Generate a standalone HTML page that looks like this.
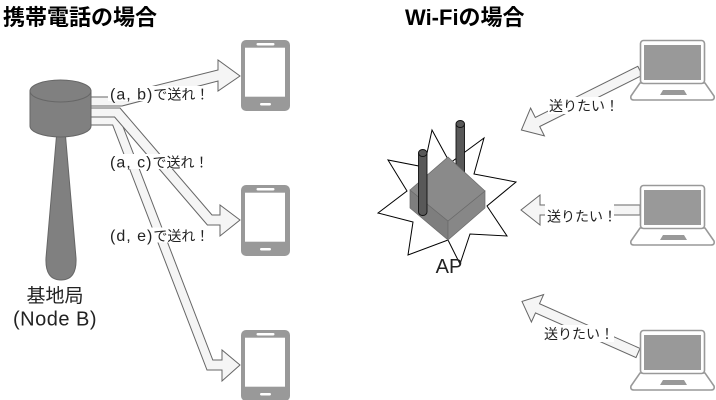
<!DOCTYPE html>
<html>
<head>
<meta charset="utf-8">
<style>
  html,body{margin:0;padding:0;background:#fff;}
  svg{display:block;}
</style>
</head>
<body>
<svg width="716" height="400" viewBox="0 0 716 400" xmlns="http://www.w3.org/2000/svg" font-family="'Liberation Sans','Noto Sans CJK JP',sans-serif">
  <!-- Titles -->
  <text x="3" y="25" font-size="22" font-weight="bold" fill="#000">携帯電話の場合</text>
  <text x="405" y="25" font-size="22" font-weight="bold" fill="#000">Wi-Fiの場合</text>

  <!-- Tower arrows -->
  <g fill="#f5f5f5" stroke="#666" stroke-width="1" stroke-linejoin="miter">
    <polygon points="88,117 119.3,117 212.8,360 222,360 222,350 240,365 222,381 222,370 207,370 112.7,125 88,125"/>
    <polygon points="88,108 120,108 212,215 220,215 220,205 240,220 220,236 220,225 207.4,225 114.6,117 88,117"/>
    <polygon points="88,97 110,97 218,70 218,60 240,76 218,91 218,81 122,106 88,106"/>
  </g>

  <!-- Tower -->
  <path d="M57,130 L65,130 L76,258 Q77,280 61,280 Q45,280 46,258 Z" fill="#808080" stroke="#666" stroke-width="1"/>
  <path d="M30,91 L30,126 A30.5,11 0 0 0 91,126 L91,91 Z" fill="#808080" stroke="#666" stroke-width="1"/>
  <ellipse cx="60.5" cy="91" rx="30.5" ry="11" fill="#808080" stroke="#666" stroke-width="1"/>

  <!-- Tower labels -->
  <text x="55" y="302" font-size="19" text-anchor="middle" fill="#222">基地局</text>
  <text x="55" y="325.5" font-size="20" text-anchor="middle" letter-spacing="0.5" fill="#222">(Node B)</text>

  <!-- Arrow labels -->
  <rect x="108" y="86" width="103" height="15" fill="#fff"/>
  <text x="110" y="99.5" fill="#222"><tspan font-size="16" letter-spacing="1">(a, b)</tspan><tspan font-size="14">で送れ！</tspan></text>
  <rect x="108" y="154" width="103" height="15" fill="#fff"/>
  <text x="110" y="167.5" fill="#222"><tspan font-size="16" letter-spacing="1">(a, c)</tspan><tspan font-size="14">で送れ！</tspan></text>
  <rect x="108" y="227.5" width="103" height="15" fill="#fff"/>
  <text x="110" y="241" fill="#222"><tspan font-size="16" letter-spacing="1">(d, e)</tspan><tspan font-size="14">で送れ！</tspan></text>

  <!-- Phones -->
  <g>
    <rect x="241" y="40" width="49" height="71" rx="5" fill="#999"/>
    <rect x="245" y="47.7" width="40" height="49" fill="#fff"/>
    <rect x="256.5" y="43" width="18" height="2.5" rx="1.2" fill="#fff"/>
    <rect x="260" y="103" width="11" height="2.5" rx="1.2" fill="#fff"/>
  </g>
  <g>
    <rect x="241" y="185" width="49" height="71" rx="5" fill="#999"/>
    <rect x="245" y="192.7" width="40" height="49" fill="#fff"/>
    <rect x="256.5" y="188" width="18" height="2.5" rx="1.2" fill="#fff"/>
    <rect x="260" y="248" width="11" height="2.5" rx="1.2" fill="#fff"/>
  </g>
  <g>
    <rect x="241" y="330" width="49" height="71" rx="5" fill="#999"/>
    <rect x="245" y="337.7" width="40" height="49" fill="#fff"/>
    <rect x="256.5" y="333" width="18" height="2.5" rx="1.2" fill="#fff"/>
    <rect x="260" y="393" width="11" height="2.5" rx="1.2" fill="#fff"/>
  </g>

  <!-- AP star -->
  <polygon points="432,130 450,163 484,138 474,174 516,182 487,206 507,236 470,234 460,264 448,240 408,255 413,222 378,213 407,191 388,160 424,167" fill="#fff" stroke="#000" stroke-width="1"/>

  <!-- right antenna (behind box) -->
  <rect x="456" y="124" width="8.5" height="50" fill="#585858" stroke="#111" stroke-width="0.9"/>
  <ellipse cx="460.25" cy="124" rx="4.25" ry="3.5" fill="#585858" stroke="#111" stroke-width="0.9"/>

  <!-- box -->
  <polygon points="410,190 448,221 448,240 410,208" fill="#7e7e7e" stroke="#6a6a6a" stroke-width="0.7"/>
  <polygon points="448,221 485,191 485,208 448,240" fill="#878787" stroke="#6a6a6a" stroke-width="0.7"/>
  <polygon points="448,157 485,191 448,221 410,190" fill="#8a8a8a" stroke="#6a6a6a" stroke-width="0.7"/>

  <!-- left antenna (front) -->
  <path d="M418.5,153 L418.5,212 A4.25,3.5 0 0 0 427,212 L427,153 Z" fill="#585858" stroke="#111" stroke-width="0.9"/>
  <ellipse cx="422.75" cy="153" rx="4.25" ry="3.5" fill="#585858" stroke="#111" stroke-width="0.9"/>

  <text x="449" y="273" font-size="20" text-anchor="middle" fill="#222">AP</text>

  <!-- Laptop arrows -->
  <g fill="#f5f5f5" stroke="#666" stroke-width="1">
    <polygon points="637.8,66.3 535.3,117.5 530.6,108.1 521.4,130 544.4,135.9 539.7,126.5 642.2,75.3"/>
    <polygon points="640,205 540,205 540,195 521,210 540,225 540,215 640,215"/>
    <polygon points="640,348.4 539.5,303.7 543.6,294.6 522,301.4 531.4,322 535.5,312.9 636,357.6"/>
  </g>

  <!-- Laptop arrow labels -->
  <rect x="548" y="97" width="71" height="17" fill="#fff"/>
  <text x="549" y="110.8" font-size="14" fill="#222">送りたい！</text>
  <rect x="545" y="204" width="69" height="19" fill="#fff"/>
  <text x="547" y="221.5" font-size="14" fill="#222">送りたい！</text>
  <rect x="543" y="325" width="71" height="17" fill="#fff"/>
  <text x="544" y="339" font-size="14" fill="#222">送りたい！</text>

  <!-- Laptops -->
  <g>
    <path d="M640,83 L705,83 L714,96 Q715,100 711,100 L634,100 Q630,100 631,96 Z" fill="#fff" stroke="#999" stroke-width="1.6"/>
    <rect x="640.5" y="40.5" width="64" height="43" rx="3" fill="#fff" stroke="#999" stroke-width="1.6"/>
    <rect x="644" y="45" width="57" height="35" fill="#999"/>
    <polygon points="663,90 684,90 687,95 660,95" fill="#999"/>
  </g>
  <g>
    <path d="M640,228 L705,228 L714,241 Q715,245 711,245 L634,245 Q630,245 631,241 Z" fill="#fff" stroke="#999" stroke-width="1.6"/>
    <rect x="640.5" y="185.5" width="64" height="43" rx="3" fill="#fff" stroke="#999" stroke-width="1.6"/>
    <rect x="644" y="190" width="57" height="35" fill="#999"/>
    <polygon points="663,235 684,235 687,240 660,240" fill="#999"/>
  </g>
  <g>
    <path d="M640,373 L705,373 L714,386 Q715,390 711,390 L634,390 Q630,390 631,386 Z" fill="#fff" stroke="#999" stroke-width="1.6"/>
    <rect x="640.5" y="330.5" width="64" height="43" rx="3" fill="#fff" stroke="#999" stroke-width="1.6"/>
    <rect x="644" y="335" width="57" height="35" fill="#999"/>
    <polygon points="663,380 684,380 687,385 660,385" fill="#999"/>
  </g>
</svg>
</body>
</html>
